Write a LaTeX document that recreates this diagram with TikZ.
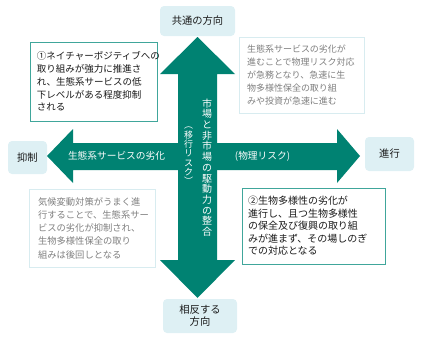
\documentclass[tikz,border=0pt]{standalone}
\usepackage{fontspec}
\setmainfont{Noto Sans CJK JP}
\definecolor{arrowteal}{RGB}{0,130,114}
\definecolor{boxteal}{RGB}{64,166,155}
\definecolor{paleedge}{RGB}{216,236,240}
\definecolor{lblfill}{RGB}{222,240,244}
\definecolor{graytext}{RGB}{128,128,128}
\definecolor{darktext}{RGB}{26,26,26}
\tikzset{
  lbl/.style={rectangle, rounded corners=4pt, fill=lblfill, draw=none, text=darktext,
    font=\fontsize{10.3}{12}\selectfont, align=center, inner sep=0pt},
  tealbox/.style={rectangle, draw=boxteal, line width=0.9pt, fill=white, text=darktext, align=left, inner ysep=0pt},
  palebox/.style={rectangle, draw=paleedge, line width=0.9pt, fill=white, text=graytext, align=left, inner ysep=0pt},
  arrowtext/.style={text=white, font=\fontsize{9.7}{11}\selectfont, inner sep=0pt},
  bigarrow/.style={fill=arrowteal, draw=none}
}
\begin{document}
\begin{tikzpicture}[x=1pt,y=-1pt]
\useasboundingbox (0,0) rectangle (424,340);
% big cross arrows
\fill[bigarrow] (178,74) -- (160,74) -- (197.5,37) -- (235,74) -- (217,74) -- (217,260)
  -- (235,260) -- (197.5,298) -- (160,260) -- (178,260) -- cycle;
\fill[bigarrow] (73,143) -- (73,129) -- (47,156) -- (73,183) -- (73,170) -- (337,170)
  -- (337,183) -- (360,156) -- (337,129) -- (337,143) -- cycle;
% direction labels
\node[lbl, minimum width=75pt, minimum height=30pt] (top) at (197.5,21) {共通の方向};
\node[lbl, minimum width=74pt, minimum height=34pt] (bottom) at (200,316) {相反する\\方向};
\node[lbl, minimum width=39pt, minimum height=33pt] (left) at (27.5,157.5) {抑制};
\node[lbl, minimum width=49pt, minimum height=34pt] (right) at (389.5,154) {進行};
% arrow texts
\node[arrowtext] (hleft) at (116.5,156) {生態系サービスの劣化};
\node[arrowtext] (hright) at (262.5,156) {(物理リスク)};
\node[text=white, font=\fontsize{10}{10.7}\selectfont, align=center, inner sep=0pt] (vright) at (207,167.5)
  {市\\場\\と\\非\\市\\場\\の\\駆\\動\\力\\の\\整\\合};
\node[text=white, font=\fontsize{9}{9.3}\selectfont, align=center, inner sep=0pt] (vleft) at (188.5,156)
  {︵\\移\\行\\リ\\ス\\ク\\︶};
% info boxes
\node[tealbox, minimum width=127pt, minimum height=79pt, inner xsep=7pt, text width=113pt,
  font=\fontsize{9.5}{12.75}\selectfont] (b1) at (93.5,81.5)
  {①ネイチャーポジティブへの\\取り組みが強力に推進さ\\れ、生態系サービスの低\\下レベルがある程度抑制\\される};
\node[palebox, minimum width=125pt, minimum height=76pt, inner xsep=8pt, text width=109pt,
  font=\fontsize{9}{13}\selectfont] (b2) at (301.5,75)
  {生態系サービスの劣化が\\進むことで物理リスク対応\\が急務となり、急速に生\\物多様性保全の取り組\\みや投資が急速に進む};
\node[palebox, minimum width=126pt, minimum height=78pt, inner xsep=9pt, text width=108pt,
  font=\fontsize{9.3}{13.25}\selectfont] (b3) at (92,228)
  {気候変動対策がうまく進\\行することで、生態系サー\\ビスの劣化が抑制され、\\生物多様性保全の取り\\組みは後回しとなる};
\node[tealbox, minimum width=143pt, minimum height=76pt, inner xsep=6pt, text width=131pt,
  font=\fontsize{10}{12.5}\selectfont] (b4) at (313.5,226)
  {②生物多様性の劣化が\\進行し、且つ生物多様性\\の保全及び復興の取り組\\みが進まず、その場しのぎ\\での対応となる};
\end{tikzpicture}
\end{document}
